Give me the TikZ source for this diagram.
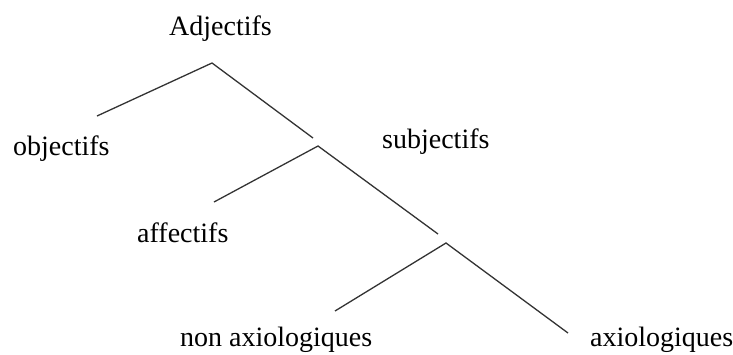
\documentclass[tikz,border=0pt]{standalone}
\usepackage{fontspec}
\setmainfont{Liberation Serif}
\begin{document}
\begin{tikzpicture}[x=1pt,y=-1pt,
  lab/.style={inner sep=0pt,anchor=base west,font=\fontsize{28}{30}\selectfont},
  branch/.style={line width=1.3pt,draw=black!80}]
\useasboundingbox (0,0) rectangle (733,354);
\node[lab] (adj) at (169,35) {Adjectifs};
\node[lab] (obj) at (13,155) {objectifs};
\node[lab] (subj) at (382,148) {subjectifs};
\node[lab] (aff) at (137,242) {affectifs};
\node[lab] (nonax) at (180,346) {non axiologiques};
\node[lab] (ax) at (590,346) {axiologiques};
\coordinate (a1) at (212,63);
\coordinate (l1) at (97,116);
\coordinate (r1) at (313,138);
\coordinate (a2) at (318,146);
\coordinate (l2) at (214,202);
\coordinate (r2) at (438,234);
\coordinate (a3) at (446,243);
\coordinate (l3) at (335,311);
\coordinate (r3) at (568,333);
\draw[branch] (l1) -- (a1) -- (r1);
\draw[branch] (l2) -- (a2) -- (r2);
\draw[branch] (l3) -- (a3) -- (r3);
\end{tikzpicture}
\end{document}
